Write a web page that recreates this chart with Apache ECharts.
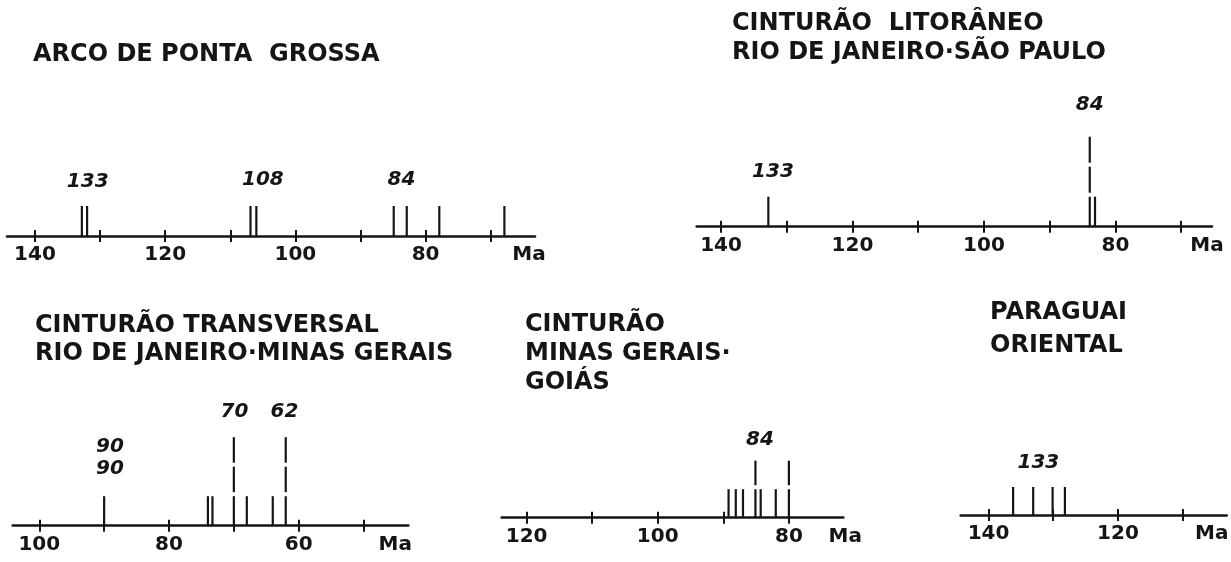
<!DOCTYPE html>
<html>
<head>
<meta charset="utf-8">
<script src="https://cdn.jsdelivr.net/npm/echarts@6/dist/echarts.min.js"></script>
<style>
html,body{margin:0;padding:0;background:#ffffff;}
#c{width:1231px;height:562px;}
</style>
</head>
<body>
<div id="c"></div>
<script>
// ---------------- DATA (ages in Ma, counts of determinations) ----------------
// Arco de Ponta Grossa
const arcoLines = [[132.8,1],[132.0,1],[106.9,1],[106.0,1],[84.9,1],[82.9,1],[77.9,1],[67.9,1]];
const arcoPeaks = [[131.9,1.81,'133'],[105.0,1.87,'108'],[83.7,1.87,'84']];
const arcoTicks = [140,130,120,110,100,90,80,70];
const arcoTickLabels = [140,120,100,80];

// Cinturão Litorâneo Rio de Janeiro - São Paulo
const litLines = [[132.8,1],[83.9,3],[83.1,1]];
const litPeaks = [[132.1,1.83,'133'],[83.9,4.06,'84']];
const litTicks = [140,130,120,110,100,90,80,70];
const litTickLabels = [140,120,100,80];

// Cinturão Transversal Rio de Janeiro - Minas Gerais
const transLines = [[90.0,1],[74.0,1],[73.3,1],[70.0,3],[68.0,1],[64.0,1],[62.0,3]];
const transPeaks = [[89.1,2.31,'90\n90'],[69.9,3.86,'70'],[62.2,3.86,'62']];
const transTicks = [100,90,80,70,60,50];
const transTickLabels = [100,80,60];

// Cinturão Minas Gerais - Goiás
const mgLines = [[89.2,1],[88.1,1],[87.0,1],[85.1,2],[84.3,1],[82.0,1],[80.0,2]];
const mgPeaks = [[84.4,2.73,'84']];
const mgTicks = [120,110,100,90,80];
const mgTickLabels = [120,100,80];

// Paraguai Oriental
const parLines = [[136.2,1],[133.1,1],[130.1,1],[128.2,1]];
const parPeaks = [[132.3,1.85,'133']];
const parTicks = [140,130,120,110];
const parTickLabels = [140,120];

const unitName = 'Ma';

// ---------------- LAYOUT / STYLE ----------------
const INK = '#151515';
const FONT = '"DejaVu Sans", "Liberation Sans", sans-serif';
const GAP = 4;

const panels = [
  {lines: arcoLines, peaks: arcoPeaks, ticks: arcoTicks, labels: arcoTickLabels,
   left: 7, right: 535, axisY: 236, unit: 30, min: 63.2, max: 144.3, nameGap: -6},
  {lines: litLines, peaks: litPeaks, ticks: litTicks, labels: litTickLabels,
   left: 696.7, right: 1212, axisY: 226.7, unit: 30, min: 65.3, max: 143.7, nameGap: -5},
  {lines: transLines, peaks: transPeaks, ticks: transTicks, labels: transTickLabels,
   left: 12.7, right: 408.3, axisY: 525.7, unit: 29.5, min: 43.1, max: 104.1, nameGap: -13},
  {lines: mgLines, peaks: mgPeaks, ticks: mgTicks, labels: mgTickLabels,
   left: 501.7, right: 843.3, axisY: 517.7, unit: 28.5, min: 71.7, max: 123.8, nameGap: 2},
  {lines: parLines, peaks: parPeaks, ticks: parTicks, labels: parTickLabels,
   left: 960.7, right: 1226.7, axisY: 515, unit: 28, min: 103.2, max: 144.3, nameGap: -15}
];

const titles = [
  {text: 'ARCO DE PONTA  GROSSA', left: 33, top: 41, lh: 28},
  {text: 'CINTURÃO  LITORÂNEO\nRIO DE JANEIRO·SÃO PAULO', left: 732, top: 9.5, lh: 29},
  {text: 'CINTURÃO TRANSVERSAL\nRIO DE JANEIRO·MINAS GERAIS', left: 35, top: 311.5, lh: 28},
  {text: 'CINTURÃO\nMINAS GERAIS·\nGOIÁS', left: 525, top: 310.5, lh: 29},
  {text: 'PARAGUAI\nORIENTAL', left: 990, top: 296.5, lh: 33}
];

const LEVELS = 4.5;
const grid = [], xAxis = [], yAxis = [], series = [];

panels.forEach((p, i) => {
  const h = p.unit * LEVELS;
  grid.push({left: p.left, width: p.right - p.left, top: p.axisY - h, height: h, containLabel: false});
  // main axis: line, outside ticks, labels, unit name
  xAxis.push({
    type: 'value', gridIndex: i, position: 'bottom', inverse: true,
    min: p.min, max: p.max,
    axisLine: {show: true, onZero: false, lineStyle: {color: INK, width: 2.6}},
    axisTick: {show: true, inside: false, length: 6, lineStyle: {color: INK, width: 2}, customValues: p.ticks},
    axisLabel: {show: true, customValues: p.labels, margin: 9, color: INK,
      fontFamily: FONT, fontWeight: 'bold', fontSize: 20},
    splitLine: {show: false},
    name: unitName, nameLocation: 'start', nameGap: p.nameGap, nameMoveOverlap: false,
    nameTextStyle: {color: INK, fontFamily: FONT, fontWeight: 'bold', fontSize: 20,
      align: 'center', verticalAlign: 'top', padding: [9, 0, 0, 0]}
  });
  // companion axis: inside ticks so that ticks cross the line
  xAxis.push({
    type: 'value', gridIndex: i, position: 'bottom', inverse: true,
    min: p.min, max: p.max,
    axisLine: {show: false, onZero: false},
    axisTick: {show: true, inside: true, length: 6, lineStyle: {color: INK, width: 2}, customValues: p.ticks},
    axisLabel: {show: false},
    splitLine: {show: false}
  });
  yAxis.push({type: 'value', gridIndex: i, min: 0, max: LEVELS, show: false});

  series.push({
    type: 'custom', coordinateSystem: 'cartesian2d', xAxisIndex: 2 * i, yAxisIndex: i,
    clip: false, silent: true,
    data: p.lines,
    renderItem: function (params, api) {
      const age = api.value(0), n = api.value(1);
      const children = [];
      for (let k = 0; k < n; k++) {
        const a = api.coord([age, k]);
        const b = api.coord([age, k + 1]);
        children.push({
          type: 'line',
          shape: {x1: a[0], y1: a[1] - (k > 0 ? GAP : 0), x2: b[0], y2: b[1]},
          style: {stroke: INK, lineWidth: 2.2}
        });
      }
      return {type: 'group', children: children};
    }
  });
  series.push({
    type: 'custom', coordinateSystem: 'cartesian2d', xAxisIndex: 2 * i, yAxisIndex: i,
    clip: false, silent: true,
    data: p.peaks.map(d => [d[0], d[1]]),
    renderItem: function (params, api) {
      const pt = api.coord([api.value(0), api.value(1)]);
      return {
        type: 'text', x: pt[0], y: pt[1],
        style: {text: p.peaks[params.dataIndex][2], fill: INK,
          fontFamily: FONT, fontStyle: 'italic', fontWeight: 'bold', fontSize: 20,
          lineHeight: 21.6, align: 'center', verticalAlign: 'middle'}
      };
    }
  });
});

const option = {
  backgroundColor: '#ffffff',
  animation: false,
  title: titles.map(t => ({
    text: t.text, left: t.left, top: t.top, padding: 0,
    textStyle: {color: INK, fontFamily: FONT, fontWeight: 'bold', fontSize: 24, lineHeight: t.lh}
  })),
  grid: grid, xAxis: xAxis, yAxis: yAxis, series: series
};

const chart = echarts.init(document.getElementById('c'), null, {renderer: 'canvas'});
chart.setOption(option);
</script>
</body>
</html>
